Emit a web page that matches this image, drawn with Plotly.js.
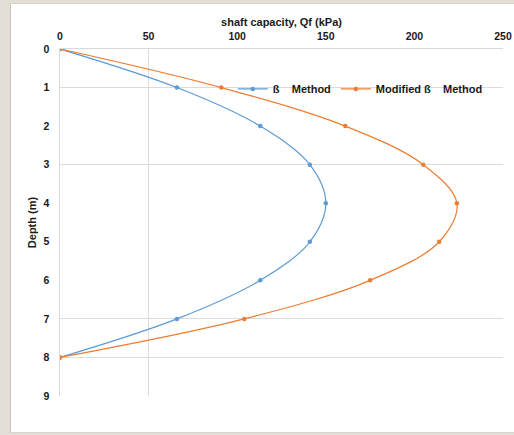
<!DOCTYPE html>
<html>
<head>
<meta charset="utf-8">
<script src="https://cdn.plot.ly/plotly-3.0.1.min.js"></script>
<style>
  html, body { margin: 0; padding: 0; background: #e4dfd6; width: 514px; height: 435px; overflow: hidden; }
  #chart { position: absolute; left: 10px; top: 3px; width: 504px; height: 428px;
           background: #ffffff; border-left: 1px solid #cbc6bd; border-top: 1px solid #d8d4cc; border-bottom: 1px solid #d8d4cc; }
</style>
</head>
<body>
<div id="chart"></div>
<script>
// Depth below ground (m)
const depth = [0, 1, 2, 3, 4, 5, 6, 7, 8];
// Shaft capacity, Qf (kPa) by method
const betaMethod = [0, 66, 113, 141, 150, 141, 113, 66, 0];
const modifiedBetaMethod = [0, 91, 161, 205, 224, 214, 175, 104, 0];
// Axis ticks
const xTicks = [0, 50, 100, 150, 200, 250];
const yTicks = [0, 1, 2, 3, 4, 5, 6, 7, 8, 9];

const NB = '\u00a0';
const lbl = (s) => s.replace(/ {3}/g, NB + NB + NB + NB);

const font = { family: 'Liberation Sans, Arial, sans-serif', size: 10, color: '#1a1a1a' };

const traces = [
  {
    x: betaMethod, y: depth, name: '<b>' + lbl('ß   Method') + '</b>',
    type: 'scatter', mode: 'lines+markers',
    line: { color: '#5b9bd5', width: 1.2, shape: 'spline', smoothing: 1 },
    marker: { color: '#5b9bd5', size: 4.5 }
  },
  {
    x: modifiedBetaMethod, y: depth, name: '<b>' + lbl('Modified ß   Method') + '</b>',
    type: 'scatter', mode: 'lines+markers',
    line: { color: '#ed7d31', width: 1.2, shape: 'spline', smoothing: 1 },
    marker: { color: '#ed7d31', size: 4.5 }
  },
  // empty trace anchoring the grid-only overlay axes
  { x: [], y: [], xaxis: 'x2', yaxis: 'y2', showlegend: false, hoverinfo: 'skip', type: 'scatter' }
];

const layout = {
  width: 504, height: 428,
  margin: { l: 49, r: 12, t: 45, b: 36 },
  paper_bgcolor: '#ffffff', plot_bgcolor: '#ffffff',
  font: font,
  showlegend: true,
  legend: {
    orientation: 'h', x: 0.39, y: 0.885, xanchor: 'left', yanchor: 'middle',
    bgcolor: 'rgba(0,0,0,0)', font: { ...font, size: 11 },
    itemwidth: 30, tracegroupgap: 0
  },
  xaxis: {
    side: 'top', range: [0, 250], tickvals: xTicks, ticktext: xTicks.map(v => '<b>' + v + '</b>'),
    showgrid: false, zeroline: false, showline: true, linecolor: '#d9d9d9', linewidth: 1.5,
    ticks: '', tickfont: { ...font, size: 10.5 }, ticklabelstandoff: 3,
    title: { text: '<b>shaft capacity, Qf (kPa)</b>', font: { ...font, size: 11 }, standoff: 1 },
    fixedrange: true
  },
  yaxis: {
    range: [9, 0], tickvals: yTicks, ticktext: yTicks.map(v => '<b>' + v + '</b>'),
    showgrid: false, zeroline: false, showline: true, linecolor: '#d9d9d9', linewidth: 1.5,
    ticks: '', tickfont: { ...font, size: 10.5 }, ticklabelstandoff: 7,
    title: { text: '<b>Depth (m)</b>', font: { ...font, size: 11 }, standoff: 4 },
    fixedrange: true
  },
  xaxis2: {
    overlaying: 'x', anchor: 'y2', side: 'top', range: [0, 250], tickvals: [50],
    showticklabels: false, ticks: '', showgrid: true, gridcolor: '#dcdcdc', gridwidth: 1,
    zeroline: false, showline: false, fixedrange: true
  },
  yaxis2: {
    overlaying: 'y', anchor: 'x2', range: [9, 0], tickvals: [1, 3, 7, 8, 9],
    showticklabels: false, ticks: '', showgrid: true, gridcolor: '#dcdcdc', gridwidth: 1,
    zeroline: false, showline: false, fixedrange: true
  }
};

Plotly.newPlot('chart', traces, layout, { displayModeBar: false, staticPlot: true });
</script>
</body>
</html>
